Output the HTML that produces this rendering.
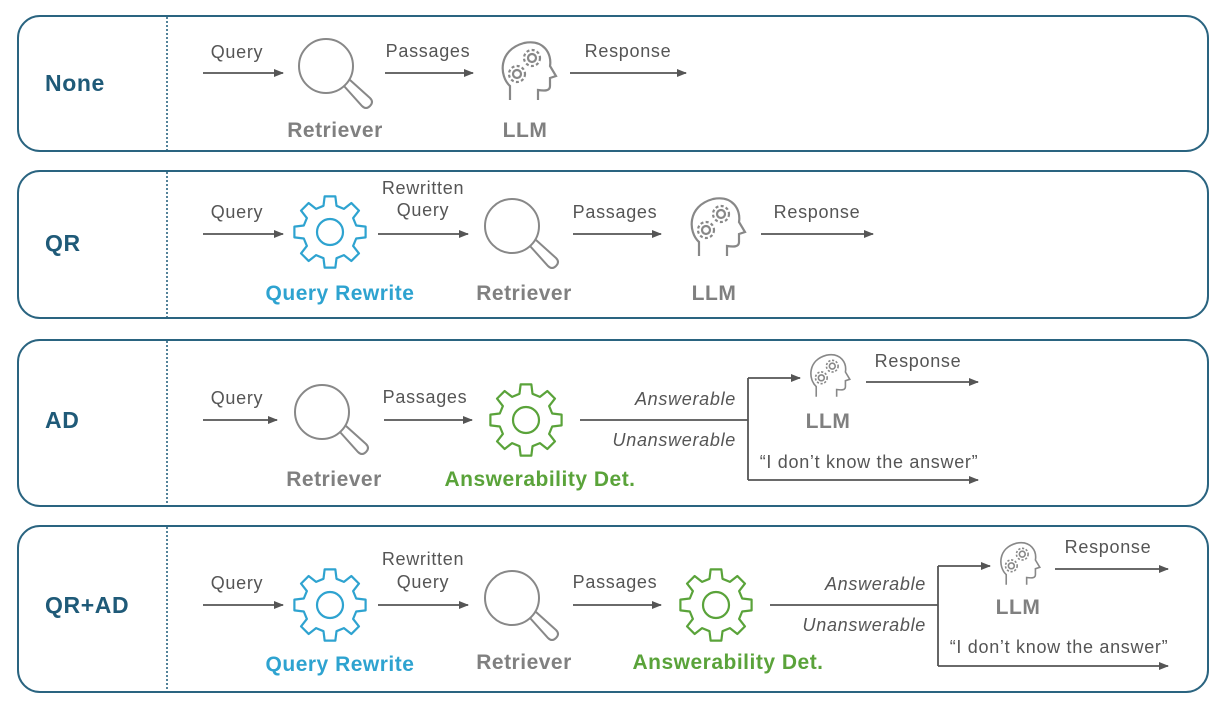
<!DOCTYPE html>
<html><head><meta charset="utf-8"><style>
html,body{margin:0;padding:0;background:#fff;}
svg{display:block;}
text{font-family:"Liberation Sans",sans-serif;}
.lab{font-size:18px;letter-spacing:0.7px;fill:#555;text-anchor:middle;}
.it{font-size:18px;letter-spacing:0.7px;fill:#555;font-style:italic;text-anchor:end;}
.nm{font-size:21px;letter-spacing:0.5px;font-weight:bold;text-anchor:middle;}
.row{font-size:23px;letter-spacing:0.6px;font-weight:bold;fill:#1f5a78;}
.ln{stroke:#555;stroke-width:1.8;fill:none;}
.box{fill:#fff;stroke:#2a6480;stroke-width:2;}
</style></head><body>
<svg width="1216" height="702" viewBox="0 0 1216 702" xmlns="http://www.w3.org/2000/svg">
<defs>
<marker id="ah" markerWidth="10" markerHeight="8" refX="9" refY="4" orient="auto" markerUnits="userSpaceOnUse">
<path d="M0,0 L10,4 L0,8 Z" fill="#555"/></marker>
<g id="mag" fill="none" stroke="#888" stroke-width="2">
<circle cx="0" cy="0" r="27"/>
<path d="M18,20 L36,40 Q40,44 44,40 Q48,36 44,32 L24,14"/>
</g>
<g id="gear" fill="none" stroke-width="2.2"><path id="gp" d=""/><circle r="13"/></g>
<g id="head" fill="none" stroke="#888" stroke-width="2.2">
<path d="M14,60 L14,46 C3,36 2,10 28,3 C48,-1 56,14 54,26 L60,36 L54,38 L54,46 C54,51 49,51 42,50 L42,60"/>
<circle cx="21" cy="34" r="4"/><circle cx="21" cy="34" r="8" stroke-dasharray="3 2.3"/>
<circle cx="36" cy="18" r="4"/><circle cx="36" cy="18" r="8" stroke-dasharray="3 2.3"/>
</g>
</defs>

<rect class="box" x="18" y="16" width="1190" height="135" rx="22"/>
<rect class="box" x="18" y="171" width="1190" height="147" rx="22"/>
<rect class="box" x="18" y="340" width="1190" height="166" rx="22"/>
<rect class="box" x="18" y="526" width="1190" height="166" rx="22"/>
<g stroke="#2a6480" stroke-width="1.6" stroke-dasharray="2 2">
<line x1="167" y1="17" x2="167" y2="150"/><line x1="167" y1="172" x2="167" y2="317"/>
<line x1="167" y1="341" x2="167" y2="505"/><line x1="167" y1="527" x2="167" y2="691"/>
</g>
<text class="row" x="45" y="91">None</text>
<text class="row" x="45" y="251">QR</text>
<text class="row" x="45" y="428">AD</text>
<text class="row" x="45" y="613">QR+AD</text>

<!-- Panel 1 -->
<text class="lab" x="237" y="58">Query</text>
<line class="ln" x1="203" y1="73" x2="283" y2="73" marker-end="url(#ah)"/>
<use href="#mag" x="326" y="66"/>
<text class="nm" x="335" y="137" fill="#808080">Retriever</text>
<text class="lab" x="428" y="57">Passages</text>
<line class="ln" x1="385" y1="73" x2="473" y2="73" marker-end="url(#ah)"/>
<use href="#head" transform="translate(496,40)"/>
<text class="nm" x="525" y="137" fill="#808080">LLM</text>
<text class="lab" x="628" y="57">Response</text>
<line class="ln" x1="570" y1="73" x2="686" y2="73" marker-end="url(#ah)"/>

<!-- Panel 2 -->
<text class="lab" x="237" y="218">Query</text>
<line class="ln" x1="203" y1="234" x2="283" y2="234" marker-end="url(#ah)"/>
<use href="#gear" x="330" y="232" stroke="#2ea3d0"/>
<text class="nm" x="340" y="300" fill="#2ea3d0">Query Rewrite</text>
<text class="lab" x="423" y="194">Rewritten</text>
<text class="lab" x="423" y="216">Query</text>
<line class="ln" x1="378" y1="234" x2="468" y2="234" marker-end="url(#ah)"/>
<use href="#mag" x="512" y="226"/>
<text class="nm" x="524" y="300" fill="#808080">Retriever</text>
<text class="lab" x="615" y="218">Passages</text>
<line class="ln" x1="573" y1="234" x2="661" y2="234" marker-end="url(#ah)"/>
<use href="#head" transform="translate(685,196)"/>
<text class="nm" x="714" y="300" fill="#808080">LLM</text>
<text class="lab" x="817" y="218">Response</text>
<line class="ln" x1="761" y1="234" x2="873" y2="234" marker-end="url(#ah)"/>

<!-- Panel 3 -->
<text class="lab" x="237" y="404">Query</text>
<line class="ln" x1="203" y1="420" x2="277" y2="420" marker-end="url(#ah)"/>
<use href="#mag" x="322" y="412"/>
<text class="nm" x="334" y="486" fill="#808080">Retriever</text>
<text class="lab" x="425" y="403">Passages</text>
<line class="ln" x1="384" y1="420" x2="472" y2="420" marker-end="url(#ah)"/>
<use href="#gear" x="526" y="420" stroke="#5aa33a"/>
<text class="nm" x="540" y="486" fill="#5aa33a">Answerability Det.</text>
<line class="ln" x1="580" y1="420" x2="748" y2="420"/>
<text class="it" x="736" y="405">Answerable</text>
<text class="it" x="736" y="446">Unanswerable</text>
<line class="ln" x1="748" y1="378" x2="748" y2="480"/>
<line class="ln" x1="748" y1="378" x2="800" y2="378" marker-end="url(#ah)"/>
<use href="#head" transform="translate(806,353) scale(0.73)"/>
<text class="nm" x="828" y="428" fill="#808080">LLM</text>
<text class="lab" x="918" y="367">Response</text>
<line class="ln" x1="866" y1="382" x2="978" y2="382" marker-end="url(#ah)"/>
<text class="lab" x="869" y="468">“I don’t know the answer”</text>
<line class="ln" x1="748" y1="480" x2="978" y2="480" marker-end="url(#ah)"/>

<!-- Panel 4 -->
<text class="lab" x="237" y="589">Query</text>
<line class="ln" x1="203" y1="605" x2="283" y2="605" marker-end="url(#ah)"/>
<use href="#gear" x="330" y="605" stroke="#2ea3d0"/>
<text class="nm" x="340" y="671" fill="#2ea3d0">Query Rewrite</text>
<text class="lab" x="423" y="565">Rewritten</text>
<text class="lab" x="423" y="588">Query</text>
<line class="ln" x1="378" y1="605" x2="468" y2="605" marker-end="url(#ah)"/>
<use href="#mag" x="512" y="598"/>
<text class="nm" x="524" y="669" fill="#808080">Retriever</text>
<text class="lab" x="615" y="588">Passages</text>
<line class="ln" x1="573" y1="605" x2="661" y2="605" marker-end="url(#ah)"/>
<use href="#gear" x="716" y="605" stroke="#5aa33a"/>
<text class="nm" x="728" y="669" fill="#5aa33a">Answerability Det.</text>
<line class="ln" x1="770" y1="605" x2="938" y2="605"/>
<text class="it" x="926" y="590">Answerable</text>
<text class="it" x="926" y="631">Unanswerable</text>
<line class="ln" x1="938" y1="566" x2="938" y2="666"/>
<line class="ln" x1="938" y1="566" x2="990" y2="566" marker-end="url(#ah)"/>
<use href="#head" transform="translate(996,541) scale(0.73)"/>
<text class="nm" x="1018" y="614" fill="#808080">LLM</text>
<text class="lab" x="1108" y="553">Response</text>
<line class="ln" x1="1055" y1="569" x2="1168" y2="569" marker-end="url(#ah)"/>
<text class="lab" x="1059" y="653">“I don’t know the answer”</text>
<line class="ln" x1="938" y1="666" x2="1168" y2="666" marker-end="url(#ah)"/>
</svg>
<script>
(function(){
var n=8,R=36,r=27,d="";
for(var i=0;i<n;i++){
 var a=i*2*Math.PI/n, w=Math.PI/n;
 var pts=[[r,a-w*0.62],[R,a-w*0.38],[R,a+w*0.38],[r,a+w*0.62]];
 pts.forEach(function(p,j){
  var x=(p[0]*Math.cos(p[1])).toFixed(2), y=(p[0]*Math.sin(p[1])).toFixed(2);
  d+=(i==0&&j==0?"M":"L")+x+","+y+" ";
 });
}
d+="Z";
document.getElementById("gp").setAttribute("d",d);
document.getElementById("gp").setAttribute("stroke-linejoin","round");
})();
</script>
</body></html>
